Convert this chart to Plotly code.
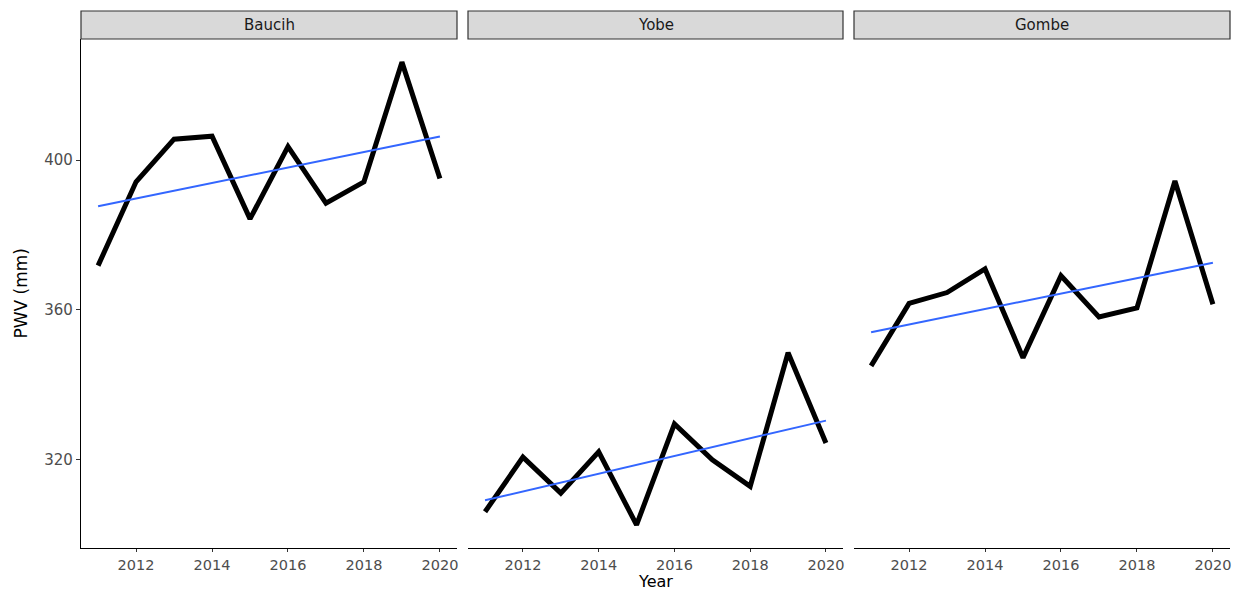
import numpy as np
import plotly.graph_objects as go

# Annual precipitable water vapour (PWV, mm) per state
years = [2011, 2012, 2013, 2014, 2015, 2016, 2017, 2018, 2019, 2020]
states = ["Baucih", "Yobe", "Gombe"]
pwv_baucih = [371.8, 394.2, 405.6, 406.4, 384.3, 403.6, 388.5, 394.2, 426.2, 395.1]
pwv_yobe = [306.0, 320.6, 311.0, 322.0, 302.5, 329.5, 319.9, 312.8, 348.5, 324.4]
pwv_gombe = [345.0, 361.7, 364.6, 370.9, 347.2, 369.1, 358.1, 360.5, 394.4, 361.5]
x_ticks = [2012, 2014, 2016, 2018, 2020]
y_ticks = [320, 360, 400]

series = [pwv_baucih, pwv_yobe, pwv_gombe]

W, H = 1236, 592
FONT = "DejaVu Sans"
TICK_COL = "#4D4D4D"
AX_COL = "#333333"

# panel geometry (pixels)
panel_x = [(81, 457), (468, 843), (854, 1230)]
panel_top, panel_bottom = 39, 548
strip_top = 11

def px(x):
    return x / W

def py(y):
    return 1 - y / H

# shared scales with 5% expansion
xlo, xhi = min(years), max(years)
xpad = 0.05 * (xhi - xlo)
all_y = np.concatenate([np.array(s) for s in series])
ylo, yhi = all_y.min(), all_y.max()
ypad = 0.05 * (yhi - ylo)

fig = go.Figure()
layout = dict(
    width=W, height=H,
    margin=dict(l=0, r=0, t=0, b=0),
    paper_bgcolor="white", plot_bgcolor="white",
    showlegend=False,
    font=dict(family=FONT, color=TICK_COL),
    shapes=[], annotations=[],
)

for i, (name, vals) in enumerate(zip(states, series)):
    k = "" if i == 0 else str(i + 1)
    xa, ya = "x" + k, "y" + k
    fig.add_trace(go.Scatter(
        x=years, y=vals, mode="lines", xaxis=xa, yaxis=ya,
        line=dict(color="black", width=5), hoverinfo="skip"))
    # linear trend (least squares)
    slope, icept = np.polyfit(years, vals, 1)
    xs = np.linspace(xlo, xhi, 80)
    fig.add_trace(go.Scatter(
        x=xs, y=slope * xs + icept, mode="lines", xaxis=xa, yaxis=ya,
        line=dict(color="#3366FF", width=2), hoverinfo="skip"))

    x0, x1 = panel_x[i]
    layout["xaxis" + k] = dict(
        domain=[px(x0), px(x1)], range=[xlo - xpad, xhi + xpad],
        anchor=ya, tickvals=x_ticks, ticktext=[str(t) for t in x_ticks],
        ticks="outside", ticklen=3, tickwidth=1, tickcolor=AX_COL,
        showline=True, linecolor="black", linewidth=1.2,
        showgrid=False, zeroline=False,
        tickfont=dict(family=FONT, size=14.5, color=TICK_COL))
    layout["yaxis" + k] = dict(
        domain=[py(panel_bottom), py(panel_top)], range=[ylo - ypad, yhi + ypad],
        anchor=xa, tickvals=y_ticks, ticktext=[str(t) for t in y_ticks],
        showgrid=False, zeroline=False,
        tickfont=dict(family=FONT, size=15, color=TICK_COL))
    if i == 0:
        layout["yaxis"].update(ticks="outside", ticklen=4, tickwidth=1,
                               tickcolor=AX_COL, showline=True,
                               linecolor="black", linewidth=1.2)
    else:
        layout["yaxis" + k].update(showticklabels=False, ticks="", showline=False)

    # facet strip
    layout["shapes"].append(dict(
        type="rect", xref="paper", yref="paper",
        x0=px(x0), x1=px(x1), y0=py(panel_top), y1=py(strip_top),
        fillcolor="#D9D9D9", line=dict(color=AX_COL, width=1.2), layer="above"))
    layout["annotations"].append(dict(
        text=name, xref="paper", yref="paper",
        x=px((x0 + x1) / 2), y=py((panel_top + strip_top) / 2),
        xanchor="center", yanchor="middle", showarrow=False,
        font=dict(family=FONT, size=15, color="#1A1A1A")))

# axis titles
layout["annotations"].append(dict(
    text="Year", xref="paper", yref="paper",
    x=px((panel_x[0][0] + panel_x[2][1]) / 2), y=0,
    xanchor="center", yanchor="bottom", showarrow=False, borderpad=0,
    font=dict(family=FONT, size=16, color="black")))
layout["annotations"].append(dict(
    text="PWV (mm)", xref="paper", yref="paper",
    x=px(21), y=py((panel_top + panel_bottom) / 2),
    xanchor="center", yanchor="middle", showarrow=False, textangle=-90,
    font=dict(family=FONT, size=17, color="black")))

fig.update_layout(**layout)
fig.write_html("out.html")
